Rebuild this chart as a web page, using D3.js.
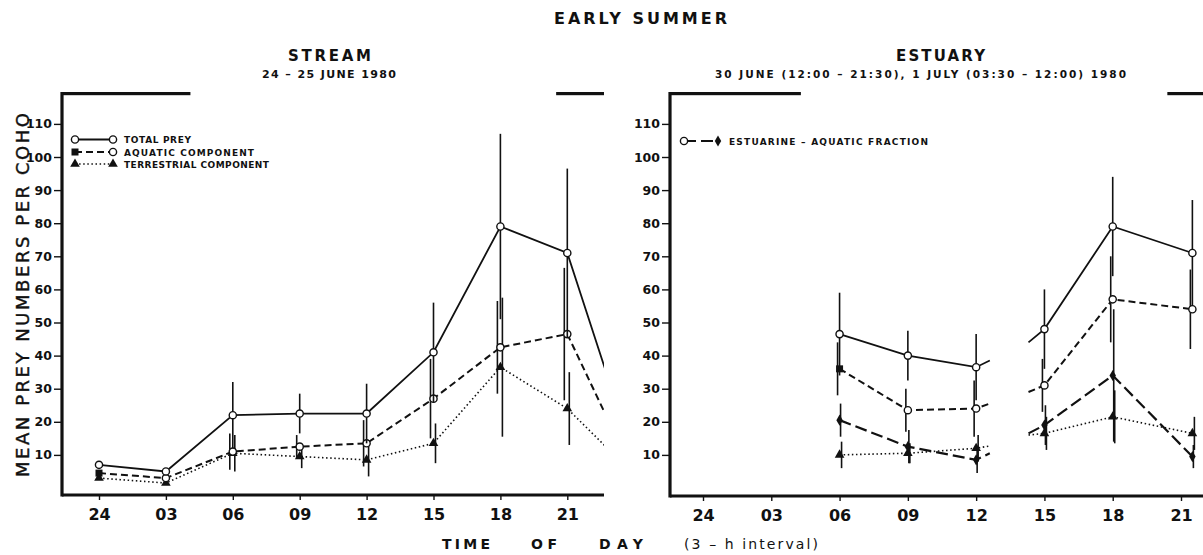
<!DOCTYPE html>
<html>
<head>
<meta charset="utf-8">
<script src="https://cdn.jsdelivr.net/npm/d3@7"></script>
<style>
body { margin: 0; background: #fff; }
svg { display: block; }
text { font-family: "DejaVu Sans", sans-serif; fill: #111; }
</style>
</head>
<body>
<svg id="chart" width="1203" height="555"></svg>
<script>
// tick labels (hours after midnight; "24" = midnight)
const tickHours = [0, 3, 6, 9, 12, 15, 18, 21];
const tickLabels = ["24", "03", "06", "09", "12", "15", "18", "21"];
const yTicks = [10, 20, 30, 40, 50, 60, 70, 80, 90, 100, 110];

// STREAM, 24-25 June 1980 (last hour = next midnight, line only)
const streamHours = [0, 3, 6, 9, 12, 15, 18, 21, 24];
const streamTotal = [7, 5, 22, 22.5, 22.5, 41, 79, 71, 9];
const streamTotalSE = [0, 0, 10, 6, 9, 15, 28, 25.5, null];
const streamAquatic = [4.5, 3, 11, 12.5, 13.5, 27, 42.5, 46.5, 4];
const streamAquaticSE = [0, 0, 5.5, 3.5, 7, 12, 14, 20, null];
const streamTerrestrial = [3, 1.5, 10.5, 9.5, 8.5, 13.5, 36.5, 24, 4];
const streamTerrestrialSE = [0, 0, 5.5, 3.5, 5, 6, 21, 11, null];

// ESTUARY, 1 July morning block and 30 June afternoon block
// (12.6 and 14.3 are where the connecting lines are cut off)
const estHoursAM = [6, 9, 12, 12.6];
const estHoursPM = [14.3, 15, 18, 21.5];
const estTotalAM = [46.5, 40, 36.5, 38.5];
const estTotalPM = [44, 48, 79, 71];
const estTotalSEAM = [12.5, 7.5, 10, null];
const estTotalSEPM = [null, 12, 15, 16];
const estAquaticAM = [36, 23.5, 24, 25.5];
const estAquaticPM = [29, 31, 57, 54];
const estAquaticSEAM = [8, 6.5, 8.5, null];
const estAquaticSEPM = [null, 8, 13, 12];
const estTerrestrialAM = [10, 10.5, 12, 12.7];
const estTerrestrialPM = [16, 16.5, 21.5, 16.5];
const estTerrestrialSEAM = [4, 3, 4, null];
const estTerrestrialSEPM = [null, 5, 8, 5];
const estEstuarineAM = [20.5, 12.5, 8.5, 10.5];
const estEstuarinePM = [16.5, 19, 34, 9.5];
const estEstuarineSEAM = [5, 5, 4, null];
const estEstuarineSEPM = [null, 6, 20, 3.5];

// darkness bars (hours)
const streamNight = [[-2, 4.1], [20.5, 26]];
const estuaryNight = [[-2, 4.3], [20.4, 26]];

const svg = d3.select("#chart");

const y = d3.scaleLinear().domain([0, 110]).range([488, 123.9]);

const styles = {
  total: { dash: null, width: 1.8 },
  aquatic: { dash: "7,4", width: 2 },
  terrestrial: { dash: "1.5,2.6", width: 1.6 },
  estuarine: { dash: "12,5", width: 2.2 }
};

function marker(g, type, cx, cy) {
  if (type === "circle") {
    g.append("circle").attr("cx", cx).attr("cy", cy).attr("r", 3.6)
      .attr("fill", "#fff").attr("stroke", "#111").attr("stroke-width", 1.4);
  } else if (type === "square") {
    g.append("rect").attr("x", cx - 3.5).attr("y", cy - 3.5).attr("width", 7).attr("height", 7)
      .attr("fill", "#111");
  } else if (type === "triangle") {
    g.append("path").attr("d", d3.symbol(d3.symbolTriangle, 40)())
      .attr("transform", `translate(${cx},${cy})`).attr("fill", "#111");
  } else if (type === "diamond") {
    g.append("path").attr("d", d3.symbol(d3.symbolDiamond, 36)())
      .attr("transform", `translate(${cx},${cy})`).attr("fill", "#111");
  }
}

function drawPanel(p) {
  const x = d3.scaleLinear().domain([0, 21]).range(p.xRange);
  const g = svg.append("g");
  const clipId = "clip" + p.id;
  svg.append("clipPath").attr("id", clipId).append("rect")
    .attr("x", p.left).attr("y", 85).attr("width", p.right - p.left).attr("height", 415);

  // darkness bars on top
  g.append("g").attr("clip-path", `url(#${clipId})`).selectAll("rect")
    .data(p.night).enter().append("rect")
    .attr("x", d => x(d[0])).attr("width", d => x(d[1]) - x(d[0]))
    .attr("y", 92).attr("height", 3.2).attr("fill", "#111");

  // left spine and bottom axis
  g.append("line").attr("x1", p.left).attr("x2", p.left).attr("y1", 92).attr("y2", p.base + 1.5)
    .attr("stroke", "#111").attr("stroke-width", 3.2);
  g.append("line").attr("x1", p.left).attr("x2", p.right).attr("y1", p.base).attr("y2", p.base)
    .attr("stroke", "#111").attr("stroke-width", 3.2);

  // y axis
  const ya = g.append("g").attr("transform", `translate(${p.left},0)`)
    .call(d3.axisLeft(y).tickValues(yTicks).tickSize(8).tickPadding(2));
  ya.select(".domain").remove();
  ya.selectAll(".tick line").attr("stroke", "#111").attr("stroke-width", 1.4);
  ya.selectAll(".tick text").attr("font-size", 12.5).attr("font-weight", "bold").attr("fill", "#111")
    .style("font-family", "'DejaVu Sans', sans-serif");

  // x axis
  const xa = g.append("g").attr("transform", `translate(0,${p.base})`)
    .call(d3.axisBottom(x).tickValues(tickHours).tickFormat((d, i) => tickLabels[i]).tickSize(5).tickPadding(9));
  xa.select(".domain").remove();
  xa.selectAll(".tick line").attr("stroke", "#111").attr("stroke-width", 1.4);
  xa.selectAll(".tick text").attr("font-size", 16).attr("font-weight", "bold").attr("fill", "#111")
    .style("font-family", "'DejaVu Sans', sans-serif");

  const plot = g.append("g").attr("clip-path", `url(#${clipId})`);
  p.series.forEach(s => {
    const st = styles[s.style];
    s.segments.forEach(seg => {
      const pts = seg.hours.map((h, i) => ({ h: h, v: seg.values[i], se: seg.se[i] }));
      // error bars
      plot.selectAll(null).data(pts.filter(d => d.se)).enter().append("line")
        .attr("x1", d => x(d.h) + s.barShift).attr("x2", d => x(d.h) + s.barShift)
        .attr("y1", d => y(d.v - d.se)).attr("y2", d => y(d.v + d.se))
        .attr("stroke", "#111").attr("stroke-width", 1.6);
      plot.append("path").datum(pts)
        .attr("d", d3.line().x(d => x(d.h)).y(d => y(d.v)))
        .attr("fill", "none").attr("stroke", "#111").attr("stroke-width", st.width)
        .attr("stroke-dasharray", st.dash);
      pts.forEach((d, i) => {
        if (d.se === null) return;
        const type = (seg.first && i === 0 && s.firstMarker) ? s.firstMarker : s.marker;
        marker(plot, type, x(d.h), y(d.v));
      });
    });
  });
}

drawPanel({
  id: "S", left: 62, right: 604, base: 495, xRange: [99, 567.3], night: streamNight,
  series: [
    { style: "terrestrial", marker: "triangle", barShift: 2,
      segments: [{ hours: streamHours, values: streamTerrestrial, se: streamTerrestrialSE }] },
    { style: "aquatic", marker: "circle", firstMarker: "square", barShift: -3,
      segments: [{ hours: streamHours, values: streamAquatic, se: streamAquaticSE, first: true }] },
    { style: "total", marker: "circle", barShift: 0,
      segments: [{ hours: streamHours, values: streamTotal, se: streamTotalSE }] }
  ]
});

drawPanel({
  id: "E", left: 670, right: 1203, base: 496, xRange: [703, 1181], night: estuaryNight,
  series: [
    { style: "terrestrial", marker: "triangle", barShift: 2,
      segments: [{ hours: estHoursAM, values: estTerrestrialAM, se: estTerrestrialSEAM },
                 { hours: estHoursPM, values: estTerrestrialPM, se: estTerrestrialSEPM }] },
    { style: "estuarine", marker: "diamond", barShift: 1,
      segments: [{ hours: estHoursAM, values: estEstuarineAM, se: estEstuarineSEAM },
                 { hours: estHoursPM, values: estEstuarinePM, se: estEstuarineSEPM }] },
    { style: "aquatic", marker: "circle", firstMarker: "square", barShift: -2,
      segments: [{ hours: estHoursAM, values: estAquaticAM, se: estAquaticSEAM, first: true },
                 { hours: estHoursPM, values: estAquaticPM, se: estAquaticSEPM }] },
    { style: "total", marker: "circle", barShift: 0,
      segments: [{ hours: estHoursAM, values: estTotalAM, se: estTotalSEAM },
                 { hours: estHoursPM, values: estTotalPM, se: estTotalSEPM }] }
  ]
});

// legends
function legendRow(x0, x1, yy, style, m0, m1, label, len) {
  const st = styles[style];
  svg.append("line").attr("x1", x0).attr("x2", x1).attr("y1", yy).attr("y2", yy)
    .attr("stroke", "#111").attr("stroke-width", st.width).attr("stroke-dasharray", st.dash);
  marker(svg, m0, x0, yy);
  marker(svg, m1, x1, yy);
  svg.append("text").attr("x", x1 + 11).attr("y", yy + 3.5).attr("font-size", 9)
    .attr("font-weight", "bold").attr("textLength", len).attr("lengthAdjust", "spacing").text(label);
}
legendRow(75, 113, 139.5, "total", "circle", "circle", "TOTAL PREY", 67);
legendRow(75, 113, 152, "aquatic", "square", "circle", "AQUATIC COMPONENT", 130);
legendRow(75, 113, 164, "terrestrial", "triangle", "triangle", "TERRESTRIAL COMPONENT", 145);
legendRow(684, 718, 141, "estuarine", "circle", "diamond", "ESTUARINE – AQUATIC FRACTION", 199);

// titles
function label(txt, x, yy, size, weight, len, anchor) {
  const t = svg.append("text").attr("x", x).attr("y", yy).attr("font-size", size)
    .attr("font-weight", weight).attr("text-anchor", anchor || "start").text(txt);
  if (len) t.attr("textLength", len).attr("lengthAdjust", "spacing");
  return t;
}
label("EARLY   SUMMER", 554, 24, 16, "bold", 173);
label("STREAM", 288, 61, 15, "bold", 83);
label("24 – 25 JUNE 1980", 262, 77.5, 11, "bold", 134);
label("ESTUARY", 896, 61, 15, "bold", 89);
label("30 JUNE (12:00 – 21:30),  1 JULY (03:30 – 12:00)  1980", 715, 77.5, 10.5, "bold", 411);

label("TIME", 442, 549, 14, "bold", 48);
label("OF", 531, 549, 14, "bold", 26);
label("DAY", 599, 549, 14, "bold", 44);
label("(3 – h  interval)", 684, 549, 14, "normal", 134);

svg.append("text").attr("transform", "translate(29,295) rotate(-90)")
  .attr("text-anchor", "middle").attr("font-size", 18)
  .attr("textLength", 364).attr("lengthAdjust", "spacing")
  .attr("stroke", "#111").attr("stroke-width", 0.4)
  .text("MEAN PREY NUMBERS PER COHO");
</script>
</body>
</html>
